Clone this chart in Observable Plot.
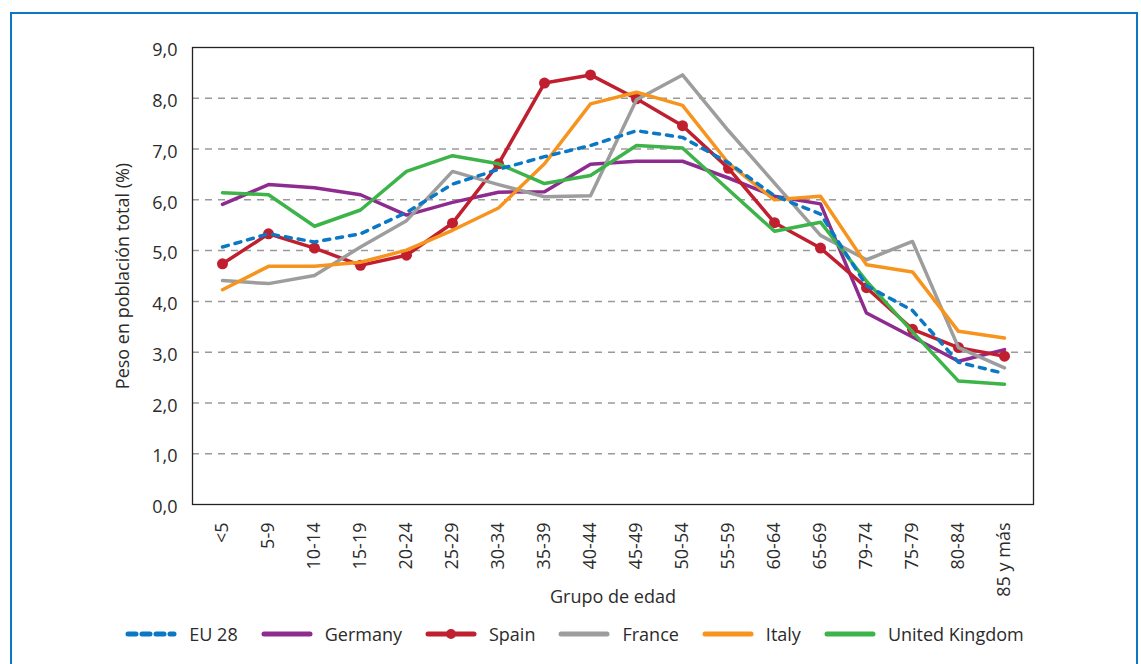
<!DOCTYPE html>
<html>
<head>
<meta charset="utf-8">
<script src="https://cdn.jsdelivr.net/npm/d3@7"></script>
<script src="https://cdn.jsdelivr.net/npm/@observablehq/plot@0.6"></script>
<style>
  html, body { margin: 0; padding: 0; background: #fff; overflow: hidden; }
  body { width: 1141px; height: 664px; position: relative; font-family: "Open Sans", sans-serif; color: #2b2b2b; }
  #frame { position: absolute; left: 10px; top: 12px; width: 1124px; height: 700px; border: 2px solid #0a78c4; box-sizing: content-box; }
  #chart { position: absolute; left: 0; top: 0; }
  #legend { position: absolute; left: 0; top: 620px; width: 1141px; height: 28px; display: flex; justify-content: center; align-items: center; gap: 23px; font-size: 18px; padding-left: 8px; box-sizing: border-box; }
  .item { display: flex; align-items: center; gap: 12px; white-space: nowrap; }
  .item svg { display: block; }
</style>
</head>
<body>
<div id="frame"></div>
<div id="chart"></div>
<div id="legend"></div>
<script>
const ageGroups = ["<5","5-9","10-14","15-19","20-24","25-29","30-34","35-39","40-44","45-49","50-54","55-59","60-64","65-69","79-74","75-79","80-84","85 y más"];
const countries = ["EU 28","Germany","Spain","France","Italy","United Kingdom"];

const eu28    = [5.07, 5.33, 5.17, 5.33, 5.75, 6.31, 6.60, 6.85, 7.07, 7.36, 7.23, 6.73, 6.08, 5.72, 4.31, 3.82, 2.80, 2.58];
const germany = [5.91, 6.30, 6.24, 6.10, 5.70, 5.95, 6.15, 6.16, 6.70, 6.76, 6.76, 6.43, 6.07, 5.92, 3.77, 3.30, 2.82, 3.05];
const spain   = [4.74, 5.33, 5.05, 4.71, 4.91, 5.54, 6.71, 8.30, 8.46, 7.99, 7.46, 6.62, 5.55, 5.05, 4.27, 3.45, 3.09, 2.92];
const france  = [4.41, 4.35, 4.51, 5.07, 5.59, 6.56, 6.30, 6.06, 6.08, 7.97, 8.46, 7.36, 6.33, 5.30, 4.82, 5.18, 3.09, 2.69];
const italy   = [4.23, 4.69, 4.69, 4.77, 5.01, 5.40, 5.84, 6.71, 7.89, 8.12, 7.86, 6.72, 6.00, 6.07, 4.72, 4.58, 3.41, 3.28];
const uk      = [6.14, 6.10, 5.48, 5.80, 6.56, 6.87, 6.71, 6.32, 6.48, 7.07, 7.02, 6.20, 5.38, 5.56, 4.40, 3.40, 2.43, 2.37];

const yTicks = [0,1,2,3,4,5,6,7,8,9];
const gridTicks = [1,2,3,4,5,6,7,8];

const seriesValues = [eu28, germany, spain, france, italy, uk];
const colors = ["#0a78c4", "#8e2b8e", "#c01f2f", "#9d9d9d", "#f7941d", "#3db449"];
const dashes = ["6,7", null, null, null, null, null];

const rows = countries.map((c, k) => seriesValues[k].map((v, i) => ({country: c, age: ageGroups[i], value: v})));

// draw order: Germany, Spain, France, Italy, UK, EU 28 on top
const drawOrder = [1, 2, 3, 4, 5, 0];
const lineMarks = [];
for (const k of drawOrder) {
  lineMarks.push(Plot.line(rows[k], {
    x: "age", y: "value", stroke: colors[k], strokeWidth: 3.5,
    strokeDasharray: dashes[k] || undefined, strokeLinecap: "round", strokeLinejoin: "round"
  }));
  if (countries[k] === "Spain") {
    lineMarks.push(Plot.dot(rows[k], {x: "age", y: "value", r: 5.5, fill: colors[k], stroke: "none"}));
  }
}

const fmt = d => d.toFixed(1).replace(".", ",");

const chart = Plot.plot({
  width: 1141,
  height: 620,
  marginLeft: 192,
  marginRight: 108,
  marginTop: 47,
  marginBottom: 116,
  style: {fontFamily: "Open Sans", fontSize: "18px", color: "#2b2b2b", background: "transparent"},
  x: {type: "point", domain: ageGroups, padding: 0.5},
  y: {domain: [0, 9]},
  marks: [
    Plot.ruleY(gridTicks, {stroke: "#9a9a9a", strokeWidth: 1.5, strokeDasharray: "7,6"}),
    Plot.axisY(yTicks, {tickSize: 0, tickPadding: 15, tickFormat: fmt, dy: 3,
      label: "Peso en población total (%)", labelAnchor: "center", labelArrow: "none", labelOffset: 76}),
    Plot.axisX({tickRotate: -90, tickSize: 0, tickPadding: 18,
      label: "Grupo de edad", labelAnchor: "center", labelArrow: "none", labelOffset: 98}),
    ...lineMarks,
    Plot.frame({stroke: "#222", strokeWidth: 1.3})
  ]
});
document.getElementById("chart").appendChild(chart);

// legend
const legend = document.getElementById("legend");
countries.forEach((c, k) => {
  const item = document.createElement("div");
  item.className = "item";
  const ns = "http://www.w3.org/2000/svg";
  const svg = document.createElementNS(ns, "svg");
  svg.setAttribute("width", 52); svg.setAttribute("height", 14);
  const ln = document.createElementNS(ns, "line");
  ln.setAttribute("x1", 3); ln.setAttribute("x2", 49); ln.setAttribute("y1", 7); ln.setAttribute("y2", 7);
  ln.setAttribute("stroke", colors[k]); ln.setAttribute("stroke-width", 5); ln.setAttribute("stroke-linecap", "round");
  if (dashes[k]) ln.setAttribute("stroke-dasharray", "8,6");
  svg.appendChild(ln);
  if (c === "Spain") {
    const dot = document.createElementNS(ns, "circle");
    dot.setAttribute("cx", 26); dot.setAttribute("cy", 7); dot.setAttribute("r", 5); dot.setAttribute("fill", colors[k]);
    svg.appendChild(dot);
  }
  const label = document.createElement("span");
  label.textContent = c;
  item.appendChild(svg); item.appendChild(label);
  legend.appendChild(item);
});
</script>
</body>
</html>
